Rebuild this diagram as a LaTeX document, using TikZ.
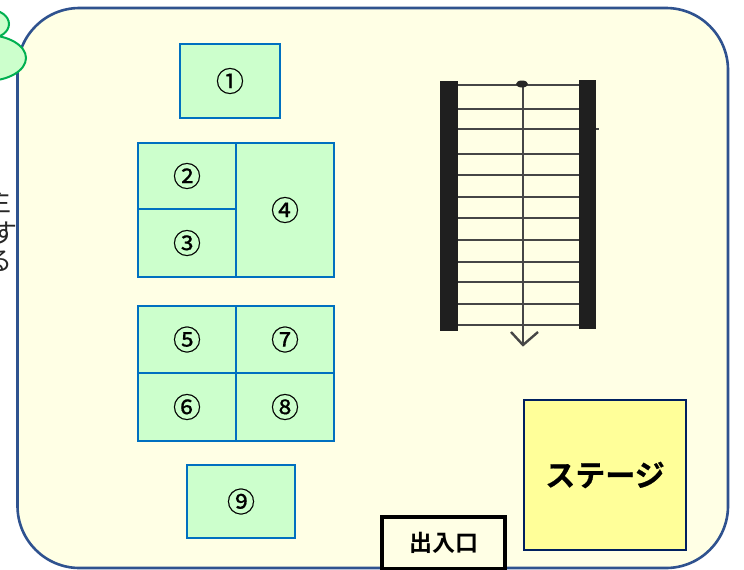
\documentclass[tikz,border=0pt]{standalone}
\usepackage{fontspec}
\newfontfamily\jp{Noto Sans CJK JP}
\newfontfamily\jpm{Noto Sans CJK JP}[FakeBold=0.5]
\newfontfamily\jpb{Noto Sans CJK JP Bold}[FakeBold=0.6]
\newfontfamily\jpd{Noto Sans CJK JP Bold}
\definecolor{framec}{RGB}{47,82,143}
\definecolor{cream}{RGB}{255,255,229}
\definecolor{seatf}{RGB}{204,255,204}
\definecolor{seatd}{RGB}{0,112,192}
\definecolor{cloudd}{RGB}{0,176,80}
\definecolor{stagef}{RGB}{255,255,153}
\definecolor{staged}{RGB}{0,32,96}
\definecolor{stairc}{RGB}{70,70,70}
\tikzset{
  x=1pt,y=-1pt,
  seat/.style={draw=seatd,fill=seatf,line width=1.7pt,inner sep=0pt,font=\jpm\fontsize{28}{28}\selectfont},
  cloud/.style={draw=cloudd,fill=seatf,line width=2pt},
  rung/.style={draw=stairc,line width=1.7pt},
  rail/.style={fill=black!88,draw=none},
  sidetext/.style={font=\jp\fontsize{26}{26}\selectfont,text=black!85,inner sep=0pt,anchor=east}
}
\newcommand{\seatbox}[6]{\node[seat,minimum width=#4-#2,minimum height=#5-#3] (#1) at ({(#2+#4)/2},{(#3+#5)/2}) {\raisebox{-3pt}{#6}};}
\begin{document}
\begin{tikzpicture}
\useasboundingbox (0,0) rectangle (744,570);
\clip (0,0) rectangle (744,570);
\fill[white] (0,0) rectangle (744,570);
\draw[framec,fill=cream,line width=2.6pt,rounded corners=62pt] (17.5,8) rectangle (728,568);
\node[sidetext] (t1) at (12,201) {主};
\node[sidetext] (t2) at (18,233) {す};
\node[sidetext] (t3) at (13,261) {る};
\draw[cloud] (-11,24) ellipse [x radius=20,y radius=14.4];
\draw[cloud] (-14,58) ellipse [x radius=40,y radius=23];
\seatbox{s1}{180}{44}{280}{118}{①}
\seatbox{s2}{138}{143}{236}{209}{②}
\seatbox{s3}{138}{209}{236}{277}{③}
\seatbox{s4}{236}{143}{334}{277}{④}
\seatbox{s5}{138}{306}{236}{373}{⑤}
\seatbox{s6}{138}{373}{236}{441}{⑥}
\seatbox{s7}{236}{306}{334}{373}{⑦}
\seatbox{s8}{236}{373}{334}{441}{⑧}
\seatbox{s9}{187}{465}{295}{538}{⑨}
% stairs
\foreach \yy in {85,108.7,129,154.3,175,197,218.3,239.7,262,282.3,304.3,325}{
  \draw[rung] (458,\yy) -- (579,\yy);
}
\draw[rung] (596,129) -- (599,129);
\fill[rail] (440,81) rectangle (458,331);
\fill[rail] (579,80) rectangle (596,329);
\draw[stairc,line width=2.8pt] (523,85) -- (523,345);
\draw[stairc,line width=2.4pt] (511,332) -- (523,345) -- (538,332);
\fill[black!85] (522,84) ellipse [x radius=6,y radius=3.5];
\node[draw=staged,fill=stagef,line width=2.2pt,minimum width=162pt,minimum height=150pt,inner sep=0pt,font=\jpb\fontsize{30}{30}\selectfont] (stage) at (605,475) {ステージ};
\node[draw=black,fill=cream,line width=3.5pt,minimum width=123pt,minimum height=52pt,inner sep=0pt,font=\jpd\fontsize{23}{23}\selectfont] (door) at (443.5,543) {出入口};
\end{tikzpicture}
\end{document}
